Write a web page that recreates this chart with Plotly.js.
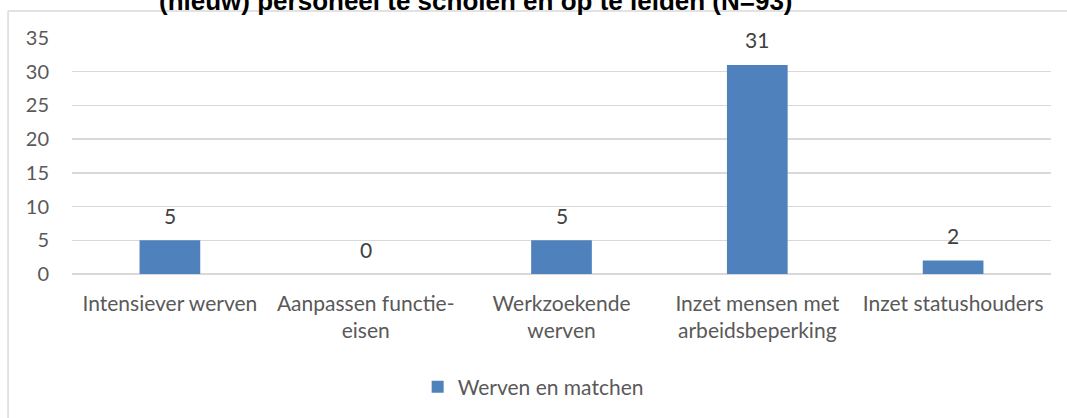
<!DOCTYPE html>
<html>
<head>
<meta charset="utf-8">
<script src="https://cdn.plot.ly/plotly-3.0.1.min.js"></script>
<style>
  body { margin: 0; background: #fff; }
  #chart { width: 1067px; height: 418px; }
</style>
</head>
<body>
<div id="chart"></div>
<script>
var categories = [
	'Intensiever werven',
	'Aanpassen functie-<br>eisen',
	'Werkzoekende<br>werven',
	'Inzet mensen met<br>arbeidsbeperking',
	'Inzet statushouders'
];
var values = [5, 0, 5, 31, 2];
var seriesName = 'Werven en matchen';
var yTicks = [0, 5, 10, 15, 20, 25, 30, 35];
var chartTitle = '(nieuw) personeel te scholen en op te leiden (N=93)';

window.onload = function () {
	drawChart();
}

function drawChart() {
	var target = document.getElementById('chart');
	var data = [
		{
			x: categories,
			y: values,
			type: 'bar',
			name: seriesName,
			marker: {color: '#4f81bd'},
			width: 0.31
		}
	];

	// value labels sit well above each bar, like the office chart
	var labels = values.map(function (v, i) {
		return {
			x: categories[i], y: v, xref: 'x', yref: 'y',
			text: String(v), showarrow: false,
			yanchor: 'middle', yshift: 25,
			font: {family: 'Lato', size: 21, color: '#404040'}
		};
	});
	// title is partly cut off at the top in the original too
	labels.push({
		text: '<b>' + chartTitle + '</b>',
		xref: 'paper', yref: 'paper',
		x: (476 - 72) / 980, y: 1.155,
		xanchor: 'center', yanchor: 'middle',
		showarrow: false,
		font: {family: 'Liberation Sans', size: 26, color: '#000000'}
	});

	var layout = {
		width: 1067,
		height: 418,
		margin: {l: 72, r: 16, t: 38, b: 143},
		paper_bgcolor: '#ffffff',
		plot_bgcolor: '#ffffff',
		font: {family: 'Lato', size: 21, color: '#595959'},
		xaxis: {
			tickfont: {family: 'Lato', size: 21, color: '#595959'},
			showline: false,
			ticks: '',
			ticklabelstandoff: 15
		},
		yaxis: {
			range: [0, 35],
			tickvals: yTicks,
			showgrid: true,
			gridcolor: '#d9d9d9',
			gridwidth: 1.5,
			zeroline: true,
			zerolinecolor: '#d9d9d9',
			zerolinewidth: 1.5,
			ticks: '',
			ticklabelstandoff: 22,
			tickfont: {family: 'Lato', size: 20, color: '#595959'}
		},
		showlegend: true,
		legend: {
			orientation: 'h',
			x: (418 - 72) / 980,
			xanchor: 'left',
			y: -0.473,
			yanchor: 'middle',
			font: {family: 'Lato', size: 21, color: '#595959'}
		},
		annotations: labels,
		shapes: [
			{
				type: 'line', xref: 'paper', yref: 'paper',
				x0: -0.0653, x1: -0.0653, y0: 1.114, y1: -0.7,
				line: {color: '#d9d9d9', width: 1.5}
			},
			{
				type: 'line', xref: 'paper', yref: 'paper',
				x0: -0.0653, x1: 1.05, y0: 1.114, y1: 1.114,
				line: {color: '#d9d9d9', width: 1.5}
			}
		]
	};
	Plotly.newPlot(target, data, layout, {displayModeBar: false, staticPlot: true});
}
</script>
</body>
</html>
